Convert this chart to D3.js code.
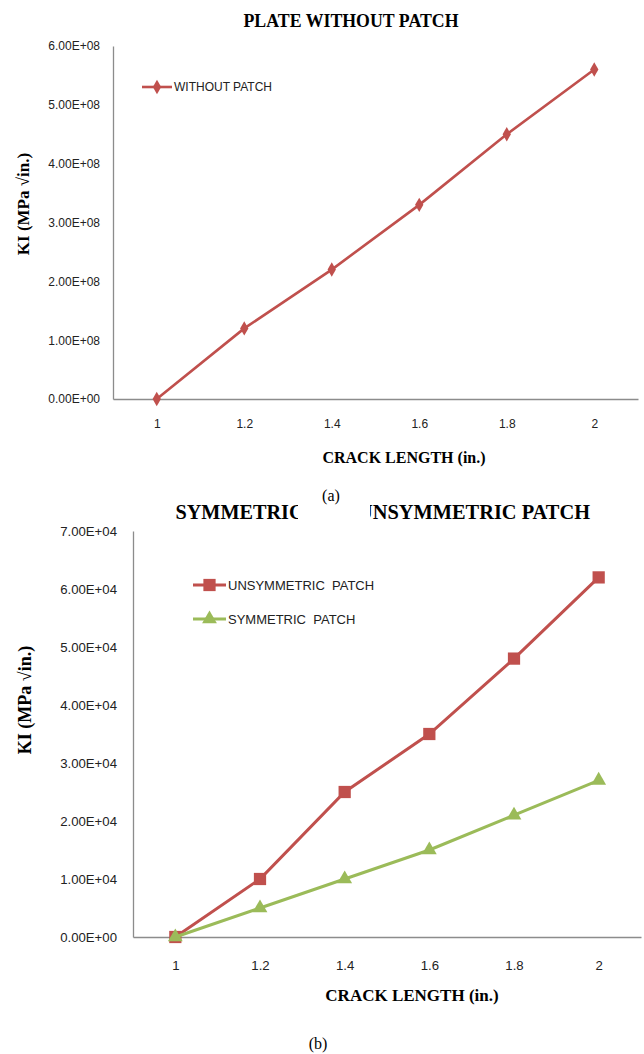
<!DOCTYPE html>
<html lang="en">
<head>
    <meta charset="UTF-8">
    <title>Crack length vs KI</title>
    <script src="https://d3js.org/d3.v7.min.js"></script>
    <style>
        body {
            margin: 0;
            background: #fff;
        }
        svg text {
            white-space: pre;
        }
        .serif {
            font-family: "Liberation Serif", "Times New Roman", serif;
        }
        .sans {
            font-family: "Liberation Sans", Arial, sans-serif;
            fill: #222;
        }
    </style>
</head>
<body>
    <div id="chart"></div>

    <script>
        // values
        const crackLengths = ["1", "1.2", "1.4", "1.6", "1.8", "2"];
        const withoutPatch = [0, 1.2e8, 2.2e8, 3.3e8, 4.5e8, 5.6e8];
        const unsymmetricPatch = [0, 1.0e4, 2.5e4, 3.5e4, 4.8e4, 6.2e4];
        const symmetricPatch = [0, 0.5e4, 1.0e4, 1.5e4, 2.1e4, 2.7e4];
        const topTicks = [0, 1e8, 2e8, 3e8, 4e8, 5e8, 6e8];
        const bottomTicks = [0, 1e4, 2e4, 3e4, 4e4, 5e4, 6e4, 7e4];

        const RED = '#C0504D';
        const GREEN = '#9BBB59';
        const AXIS = '#8c8c8c';

        const svg = d3.select('#chart')
            .append('svg')
            .attr('width', 644)
            .attr('height', 1054);

        // Excel-like "6.00E+08"
        function sci(v) {
            const s = v.toExponential(2).toUpperCase();
            return s.replace(/E([+-])(\d)$/, 'E$10$2');
        }

        function drawPanel(cfg) {
            const g = svg.append('g');

            const x = d3.scalePoint()
                .domain(crackLengths)
                .range([cfg.left, cfg.right])
                .padding(0.5);

            const y = d3.scaleLinear()
                .domain([0, cfg.ticks[cfg.ticks.length - 1]])
                .range([cfg.bottom, cfg.top]);

            // axes
            const xAxis = g.append('g')
                .attr('transform', `translate(0,${cfg.bottom})`)
                .call(d3.axisBottom(x).tickSize(0).tickPadding(cfg.xPad));
            const yAxis = g.append('g')
                .attr('transform', `translate(${cfg.left},0)`)
                .call(d3.axisLeft(y).tickValues(cfg.ticks).tickSize(0)
                    .tickPadding(cfg.yPad).tickFormat(sci));

            [xAxis, yAxis].forEach(a => {
                a.select('.domain').attr('stroke', AXIS).attr('stroke-width', 1.3);
                a.selectAll('text')
                    .attr('class', 'sans')
                    .style('font-size', cfg.tickFont + 'px');
            });

            // series
            const line = d3.line()
                .x((d, i) => x(crackLengths[i]))
                .y(d => y(d));

            cfg.series.forEach(s => {
                g.append('path')
                    .datum(s.values)
                    .attr('fill', 'none')
                    .attr('stroke', s.color)
                    .attr('stroke-width', cfg.lineWidth)
                    .attr('d', line);

                g.selectAll(null)
                    .data(s.values)
                    .join('path')
                    .attr('transform', (d, i) => `translate(${x(crackLengths[i])},${y(d)})`)
                    .attr('d', d3.symbol(s.symbol, s.size))
                    .attr('fill', s.color);
            });

            // legend
            cfg.series.forEach((s, i) => {
                const ly = cfg.legend.y + i * cfg.legend.gap;
                g.append('line')
                    .attr('x1', cfg.legend.x)
                    .attr('x2', cfg.legend.x + cfg.legend.len)
                    .attr('y1', ly).attr('y2', ly)
                    .attr('stroke', s.color)
                    .attr('stroke-width', cfg.lineWidth);
                g.append('path')
                    .attr('transform', `translate(${cfg.legend.x + cfg.legend.len / 2},${ly})`)
                    .attr('d', d3.symbol(s.symbol, s.size))
                    .attr('fill', s.color);
                g.append('text')
                    .attr('class', 'sans')
                    .attr('x', cfg.legend.x + cfg.legend.len + 2)
                    .attr('y', ly)
                    .attr('dy', '0.35em')
                    .style('font-size', cfg.legend.font + 'px')
                    .text(s.name);
            });

            // title, possibly in pieces
            cfg.title.parts.forEach(p => {
                g.append('text')
                    .attr('class', 'serif')
                    .attr('x', p.x)
                    .attr('y', cfg.title.y)
                    .attr('text-anchor', 'start')
                    .attr('textLength', p.len)
                    .attr('lengthAdjust', 'spacingAndGlyphs')
                    .style('font-size', cfg.title.font + 'px')
                    .style('font-weight', 'bold')
                    .text(p.text);
            });

            g.append('text')
                .attr('class', 'serif')
                .attr('x', cfg.xTitle.x)
                .attr('y', cfg.xTitle.y)
                .attr('text-anchor', 'middle')
                .attr('dy', '0.35em')
                .style('font-size', cfg.xTitle.font + 'px')
                .style('font-weight', 'bold')
                .text('CRACK LENGTH (in.)');

            g.append('text')
                .attr('class', 'serif')
                .attr('transform', `translate(${cfg.yTitle.x},${cfg.yTitle.y}) rotate(-90)`)
                .attr('text-anchor', 'middle')
                .attr('dy', '0.35em')
                .style('font-size', cfg.yTitle.font + 'px')
                .style('font-weight', 'bold')
                .text('KI (MPa √in.)');

            return g;
        }

        drawPanel({
            left: 113, right: 638, top: 46, bottom: 399,
            ticks: topTicks,
            xPad: 20, yPad: 13, tickFont: 12,
            lineWidth: 2.6,
            series: [
                {name: 'WITHOUT PATCH', values: withoutPatch, color: RED, symbol: d3.symbolDiamond, size: 60}
            ],
            legend: {x: 142, y: 87, gap: 0, len: 30, font: 12},
            title: {y: 27, font: 19, parts: [{text: 'PLATE WITHOUT PATCH', x: 243.5, len: 215}]},
            xTitle: {x: 404, y: 457, font: 16},
            yTitle: {x: 23, y: 204, font: 17}
        });

        // the middle of this title is hidden under the (a) caption box in the original
        drawPanel({
            left: 133, right: 641, top: 531, bottom: 937,
            ticks: bottomTicks,
            xPad: 24, yPad: 16, tickFont: 13.2,
            lineWidth: 3,
            series: [
                {name: 'UNSYMMETRIC  PATCH', values: unsymmetricPatch, color: RED, symbol: d3.symbolSquare, size: 150},
                {name: 'SYMMETRIC  PATCH', values: symmetricPatch, color: GREEN, symbol: d3.symbolTriangle, size: 95}
            ],
            legend: {x: 193, y: 585, gap: 34, len: 33, font: 13},
            title: {y: 519, font: 20, parts: [
                {text: 'SYMMETRIC', x: 175.5, len: 128},
                {text: 'UNSYMMETRIC PATCH', x: 358, len: 232}
            ]},
            xTitle: {x: 412, y: 995, font: 17},
            yTitle: {x: 25, y: 700, font: 18}
        });

        // caption (a) on its white box
        svg.append('rect')
            .attr('x', 298).attr('y', 478)
            .attr('width', 72).attr('height', 52)
            .attr('fill', '#fff');
        svg.append('text')
            .attr('class', 'serif')
            .attr('x', 331).attr('y', 495)
            .attr('text-anchor', 'middle')
            .attr('dy', '0.35em')
            .style('font-size', '16px')
            .text('(a)');
        svg.append('text')
            .attr('class', 'serif')
            .attr('x', 318).attr('y', 1043)
            .attr('text-anchor', 'middle')
            .attr('dy', '0.35em')
            .style('font-size', '16px')
            .text('(b)');
    </script>
</body>
</html>
